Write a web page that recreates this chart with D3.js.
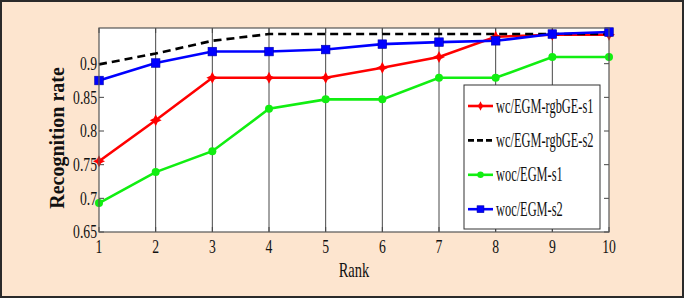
<!DOCTYPE html>
<html lang="en">
<head>
<meta charset="UTF-8">
<title>Recognition rate vs Rank</title>
<script src="https://cdnjs.cloudflare.com/ajax/libs/d3/7.8.5/d3.min.js"></script>
<style>
  body { margin: 0; background: #fff; }
  text { font-family: "Liberation Serif", "Times New Roman", serif; fill: #111; }
</style>
</head>
<body>
<div id="chart"></div>
<script>
// Data
const ranks = [1, 2, 3, 4, 5, 6, 7, 8, 9, 10];
const seriesNames = ["wc/EGM-rgbGE-s1", "wc/EGM-rgbGE-s2", "woc/EGM-s1", "woc/EGM-s2"];
const wcS1  = [0.755, 0.816, 0.879, 0.879, 0.879, 0.894, 0.910, 0.940, 0.943, 0.943];
const wcS2  = [0.899, 0.915, 0.934, 0.944, 0.944, 0.944, 0.944, 0.944, 0.944, 0.944];
const wocS1 = [0.693, 0.739, 0.770, 0.833, 0.847, 0.847, 0.879, 0.879, 0.910, 0.910];
const wocS2 = [0.875, 0.901, 0.918, 0.918, 0.921, 0.929, 0.932, 0.934, 0.944, 0.947];
const yTicks = [0.65, 0.7, 0.75, 0.8, 0.85, 0.9];

const series = [
  { name: seriesNames[0], values: wcS1,  color: "#ff0000", dash: null,  marker: "star" },
  { name: seriesNames[1], values: wcS2,  color: "#000000", dash: "8,5", marker: null },
  { name: seriesNames[2], values: wocS1, color: "#11ee11", dash: null,  marker: "circle" },
  { name: seriesNames[3], values: wocS2, color: "#0000ff", dash: null,  marker: "square" }
];

const width = 685, height = 299;
const plot = { left: 99, right: 609, top: 28, bottom: 232 };

const svg = d3.select("#chart").append("svg")
  .attr("width", width).attr("height", height);

// Background panel
svg.append("rect")
  .attr("x", 1).attr("y", 1).attr("width", 682).attr("height", 296)
  .attr("fill", "#fde5cf").attr("stroke", "#2a2a2a").attr("stroke-width", 2);

svg.append("rect")
  .attr("x", plot.left).attr("y", plot.top)
  .attr("width", plot.right - plot.left).attr("height", plot.bottom - plot.top)
  .attr("fill", "#fff");

const x = d3.scaleLinear().domain([1, 10]).range([plot.left, plot.right]);
const y = d3.scaleLinear().domain([0.65, 0.953]).range([plot.bottom, plot.top]);

// helper: squeezed serif text like the original figure
function label(g, px, py, str, opts) {
  const o = Object.assign({ size: 19, sx: 0.72, anchor: "middle", weight: "normal", rotate: 0 }, opts || {});
  return g.append("text")
    .attr("transform", `translate(${px},${py}) rotate(${o.rotate}) scale(${o.sx},1)`)
    .attr("text-anchor", o.anchor)
    .attr("dominant-baseline", "central")
    .style("font-size", o.size + "px")
    .style("font-weight", o.weight)
    .text(str);
}

// vertical grid lines
svg.append("g").selectAll("line")
  .data(ranks.slice(1, -1))
  .join("line")
  .attr("x1", d => x(d)).attr("x2", d => x(d))
  .attr("y1", plot.top).attr("y2", plot.bottom)
  .attr("stroke", "#333").attr("stroke-width", 0.9);

// inward ticks on all four sides
const tickG = svg.append("g").attr("stroke", "#444").attr("stroke-width", 1);
ranks.forEach(r => {
  tickG.append("line").attr("x1", x(r)).attr("x2", x(r)).attr("y1", plot.bottom).attr("y2", plot.bottom - 5);
  tickG.append("line").attr("x1", x(r)).attr("x2", x(r)).attr("y1", plot.top).attr("y2", plot.top + 5);
});
yTicks.forEach(t => {
  tickG.append("line").attr("x1", plot.left).attr("x2", plot.left + 5).attr("y1", y(t)).attr("y2", y(t));
  tickG.append("line").attr("x1", plot.right).attr("x2", plot.right - 5).attr("y1", y(t)).attr("y2", y(t));
});

// tick labels
const labels = svg.append("g");
ranks.forEach(r => label(labels, x(r), 247, r));
yTicks.forEach(t => label(labels, 97, y(t), String(t), { anchor: "end" }));

label(svg, 354, 269, "Rank", { size: 22, sx: 0.66 });
label(svg, 57, 138, "Recognition rate", { size: 20, sx: 1, weight: "bold", rotate: -90 });

// markers
function drawMarker(g, kind, color, cx, cy, scale) {
  const s = scale || 1;
  if (kind === "circle") {
    g.append("circle").attr("cx", cx).attr("cy", cy).attr("r", 4 * s).attr("fill", color);
  } else if (kind === "square") {
    g.append("rect").attr("x", cx - 4.3 * s).attr("y", cy - 4.3 * s)
      .attr("width", 8.6 * s).attr("height", 8.6 * s)
      .attr("fill", color).attr("stroke", "#0000aa").attr("stroke-width", 0.6);
  } else if (kind === "star") {
    const a = 6 * s, b = 2 * s;
    const pts = [[0, -a], [b, -b], [a, 0], [b, b], [0, a], [-b, b], [-a, 0], [-b, -b]];
    g.append("path")
      .attr("d", d3.line()(pts.map(p => [cx + p[0], cy + p[1]])) + "Z")
      .attr("fill", color);
  }
}

const lineGen = d3.line().x((d, i) => x(ranks[i])).y(d => y(d));

const linesG = svg.append("g");
series.forEach(s => {
  const g = linesG.append("g");
  g.append("path")
    .attr("d", lineGen(s.values))
    .attr("fill", "none")
    .attr("stroke", s.color)
    .attr("stroke-width", 2.6)
    .attr("stroke-dasharray", s.dash);
  if (s.marker) s.values.forEach((v, i) => drawMarker(g, s.marker, s.color, x(ranks[i]), y(v)));
});

// axes frame
svg.append("rect")
  .attr("x", plot.left).attr("y", plot.top)
  .attr("width", plot.right - plot.left).attr("height", plot.bottom - plot.top)
  .attr("fill", "none").attr("stroke", "#555").attr("stroke-width", 1.2);

// legend
const legend = svg.append("g");
legend.append("rect")
  .attr("x", 464).attr("y", 85).attr("width", 136).attr("height", 144)
  .attr("fill", "#fff").attr("stroke", "#333").attr("stroke-width", 1);

series.forEach((s, i) => {
  const ly = 106 + i * 34.4;
  legend.append("line")
    .attr("x1", 468).attr("x2", 493).attr("y1", ly).attr("y2", ly)
    .attr("stroke", s.color).attr("stroke-width", 2.6)
    .attr("stroke-dasharray", s.dash ? "6,3" : null);
  if (s.marker) drawMarker(legend, s.marker, s.color, 480.5, ly, 0.8);
  label(legend, 496, ly, s.name, { size: 20, sx: 0.62, anchor: "start" });
});
</script>
</body>
</html>
